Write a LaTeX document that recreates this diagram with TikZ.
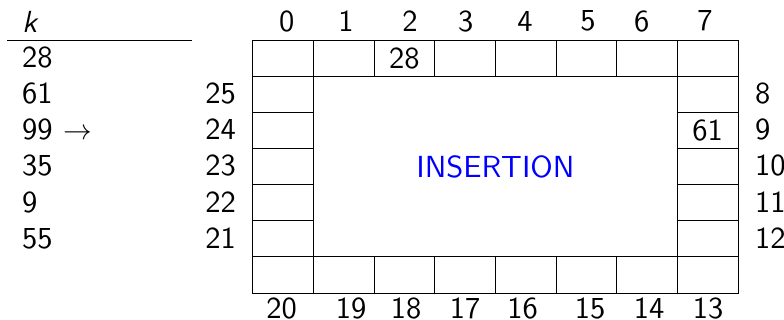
\documentclass[tikz,border=0pt]{standalone}
\usepackage{fontspec}
\newfontfamily\lmsten[ItalicFont=lmsans10-oblique.otf]{lmsans10-regular.otf}
\begin{document}
\begin{tikzpicture}[x=1pt,y=-1pt,
  every node/.style={font=\lmsten\fontsize{30.5}{36}\selectfont, inner sep=0pt},
  cell/.style={draw, line width=0.9pt, minimum width=60.67pt, minimum height=36.04pt},
  idx/.style={},
  lbl/.style={anchor=west}]
\useasboundingbox (0,0) rectangle (784,320);
% table
\node[lbl] (k) at (22,22) {\textit{k}};
\coordinate (hl) at (7,40.7);
\coordinate (hr) at (192,40.7);
\draw[line width=0.9pt] (hl) -- (hr);
\node[lbl] (v1) at (22,57) {28};
\node[lbl] (v2) at (22,93) {61};
\node[lbl] (v3) at (22,129.5) {99\hspace{11pt}\scalebox{1.15}{$\rightarrow$}};
\node[lbl] (v4) at (22,165.5) {35};
\node[lbl] (v5) at (22,202) {9};
\node[lbl] (v6) at (22,238.5) {55};
% cells: top row 0..7
\foreach \i in {0,...,7} {
  \node[cell] (c\i) at ({283.03+60.67*\i},58.72) {};
}
% right column 8..12
\foreach \i/\r in {8/1,9/2,10/3,11/4,12/5} {
  \node[cell] (c\i) at (707.7,{58.72+36.04*\r}) {};
}
% bottom row 13..20 (right to left)
\foreach \i/\c in {13/7,14/6,15/5,16/4,17/3,18/2,19/1,20/0} {
  \node[cell] (c\i) at ({283.03+60.67*\c},274.96) {};
}
% left column 21..25 (bottom to top)
\foreach \i/\r in {21/5,22/4,23/3,24/2,25/1} {
  \node[cell] (c\i) at (283.03,{58.72+36.04*\r}) {};
}
\node at (c2) {28};
\node at (c9) {61};
\node[text=blue] (ins) at (495.4,166.8) {INSERTION};
% top indices
\foreach \i/\x in {0/286.7,1/346,2/410,3/465.7,4/525,5/588,6/641.7,7/705} {
  \node[idx] (t\i) at (\x,21) {\i};
}
% bottom indices
\foreach \i/\x in {20/281.6,19/351,18/406,17/465,16/522.5,15/590,14/649,13/708} {
  \node[idx] (b\i) at (\x,308.5) {\i};
}
% right indices
\foreach \i/\y in {8/93,9/129.3,10/165.5,11/202,12/238.5} {
  \node[anchor=west] (r\i) at (755,\y) {\i};
}
% left indices
\foreach \i/\y in {25/93,24/129.3,23/165.5,22/202,21/238.5} {
  \node[anchor=east] (l\i) at (236,\y) {\i};
}
\end{tikzpicture}
\end{document}
